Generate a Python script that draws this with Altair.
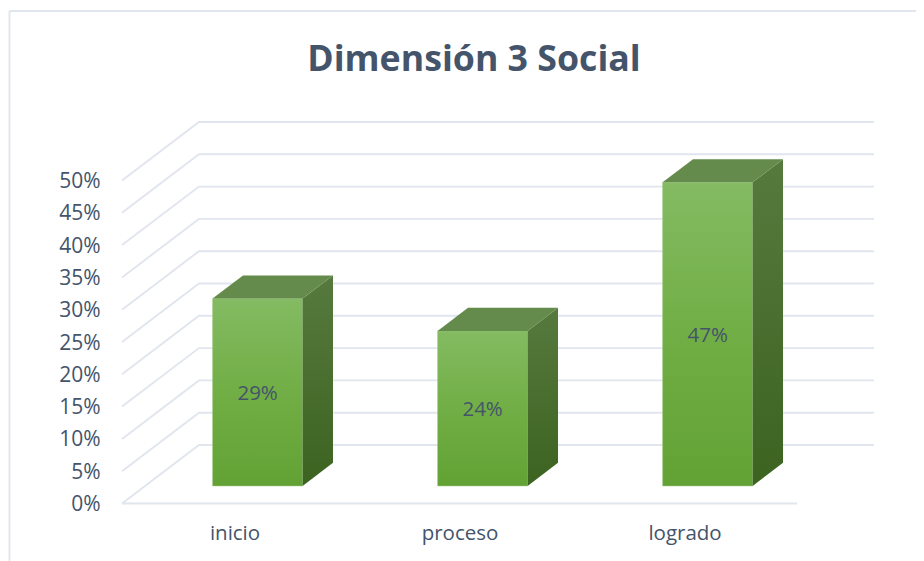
import altair as alt
import pandas as pd

categories = ["inicio", "proceso", "logrado"]
values = [29, 24, 47]
ticks = [0, 5, 10, 15, 20, 25, 30, 35, 40, 45, 50]
title_text = "Dimensión 3 Social"
caption_text = "Dimensión 3: Social – Logros de aprendizaje"

# oblique projection of the 3D box, in data units
DX = 0.342      # horizontal shift of the full floor depth (category units)
DY = 9.056      # vertical shift of the full floor depth (percent units)
D1, D2 = 0.30, 0.695   # depth of the front and back of each bar
BAR = 0.40      # bar width (category units)

TXT = "#44546a"
GRID = "#e1e5ed"
FONT = "Open Sans"
W, H = 752, 381.5

xs = alt.Scale(domain=[0, 3 + DX], nice=False, zero=False)
ys = alt.Scale(domain=[0, 50 + DY], nice=False, zero=False)
xaxis = alt.Axis(
    values=[0.5, 1.5, 2.5], title=None, domain=False, ticks=False, grid=False,
    labelExpr="['inicio','proceso','logrado'][floor(datum.value)]",
    labelFont=FONT, labelFontSize=20.5, labelColor=TXT, labelPadding=20)
yaxis = alt.Axis(
    values=ticks, title=None, domain=False, ticks=False, grid=False,
    labelExpr="datum.value + '%'", labelBaseline="middle", labelOffset=1,
    labelFont=FONT, labelFontSize=21, labelColor=TXT, labelPadding=22)
X = alt.X("x:Q", scale=xs, axis=xaxis)
Y = alt.Y("y:Q", scale=ys, axis=yaxis)

# grid
grid_rows = []
for t in ticks:
    grid_rows += [
        {"line": f"w{t}", "x": 0, "y": t},
        {"line": f"w{t}", "x": DX, "y": t + DY},
        {"line": f"w{t}", "x": 3 + DX, "y": t + DY},
    ]
grid_rows += [{"line": "floor", "x": 0, "y": 0}, {"line": "floor", "x": 3, "y": 0}]
grid = alt.Chart(pd.DataFrame(grid_rows)).mark_line(
    color=GRID, strokeWidth=1.9, clip=False
).encode(x=X, y=Y, detail="line:N", order="x:Q")

# bars
front_rows, side_rows, top_rows, label_rows = [], [], [], []
for i, (c, v) in enumerate(zip(categories, values)):
    left = i + 0.5 - BAR / 2
    right = i + 0.5 + BAR / 2
    fb = D1 * DY
    bb = D2 * DY
    front_rows.append({"c": c, "x": left + D1 * DX, "x2": right + D1 * DX, "y": fb + v, "y2": fb})
    label_rows.append({"c": c, "x": i + 0.5 + D1 * DX, "y": fb + v / 2, "t": f"{v}%"})
    side_rows += [
        {"c": c, "x": right + D1 * DX, "y": fb + v, "y2": fb},
        {"c": c, "x": right + D2 * DX, "y": bb + v, "y2": bb},
    ]
    top_rows += [
        {"c": c, "y": fb + v, "x": left + D1 * DX, "x2": right + D1 * DX},
        {"c": c, "y": bb + v, "x": left + D2 * DX, "x2": right + D2 * DX},
    ]

front_fill = alt.Gradient(
    gradient="linear", x1=0, x2=0, y1=0, y2=1,
    stops=[alt.GradientStop(offset=0, color="#84bb63"),
           alt.GradientStop(offset=0.5, color="#71ae45"),
           alt.GradientStop(offset=1, color="#62a234")],
)
side_fill = alt.Gradient(
    gradient="linear", x1=0, x2=0, y1=0, y2=1,
    stops=[alt.GradientStop(offset=0, color="#567a3e"),
           alt.GradientStop(offset=1, color="#3c6320")],
)
EDGE = "#9cc783"
front = alt.Chart(pd.DataFrame(front_rows)).mark_rect(
    color=front_fill, stroke=EDGE, strokeWidth=0.5
).encode(x=X, x2="x2:Q", y=Y, y2="y2:Q")
side = alt.Chart(pd.DataFrame(side_rows)).mark_area(color=side_fill).encode(
    x=X, y=Y, y2="y2:Q", detail="c:N",
)
top = alt.Chart(pd.DataFrame(top_rows)).mark_area(orient="horizontal", color="#648b4c").encode(
    y=Y, x=X, x2="x2:Q", detail="c:N",
)
labels = alt.Chart(pd.DataFrame(label_rows)).mark_text(
    font=FONT, fontSize=20.5, color=TXT, baseline="middle", dy=2
).encode(x=X, y=Y, text="t:N")

# chart title, chart frame and the page caption above it (pixel offsets from the plot area)
one = pd.DataFrame({"t": [title_text]})
title = alt.Chart(one).mark_text(
    font=FONT, fontSize=35.7, fontWeight="bold", color=TXT, align="center", baseline="alphabetic"
).encode(x=alt.value(352), y=alt.value(-51), text="t:N")
frame_top = alt.Chart(one).mark_rule(color=GRID, strokeWidth=1.9).encode(
    x=alt.value(-112.5), x2=alt.value(802), y=alt.value(-111)
)
frame_left = alt.Chart(one).mark_rule(color=GRID, strokeWidth=1.9).encode(
    x=alt.value(-112.5), y=alt.value(-111), y2=alt.value(439)
)
caption = alt.Chart(pd.DataFrame({"t": [caption_text]})).mark_text(
    font="Liberation Serif", fontStyle="italic", fontSize=21, color="#000000",
    align="left", baseline="alphabetic"
).encode(x=alt.value(-107), y=alt.value(-119), text="t:N")

chart = alt.layer(grid, frame_top, frame_left, caption, title, front, side, top, labels).properties(
    width=W,
    height=H,
    background="white",
    padding={"left": 114, "top": 114, "right": 42, "bottom": 57},
    autosize=alt.AutoSizeParams(type="none"),
).configure_view(stroke=None)

chart.save("out.html", embed_options={"renderer": "svg", "actions": False})
